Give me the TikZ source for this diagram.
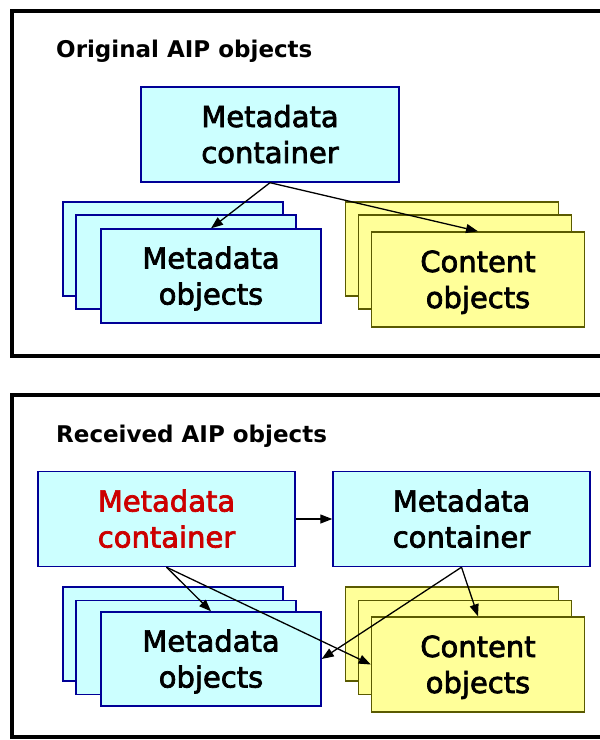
\documentclass[tikz,border=0pt]{standalone}
\usepackage{fontspec}
\setmainfont{DejaVu Sans}
\newfontfamily\boxfont[FakeBold=2.5]{DejaVu Sans}
\usetikzlibrary{arrows.meta}
\definecolor{cyanfill}{RGB}{204,255,255}
\definecolor{navyline}{RGB}{0,0,150}
\definecolor{yelfill}{RGB}{255,255,153}
\definecolor{oliveline}{RGB}{90,90,0}
\definecolor{redtext}{RGB}{204,0,0}
\newcommand\lnstrut{\rule[-7.5pt]{0pt}{36pt}}
\tikzset{
  frame/.style={line width=3.4pt, draw=black},
  titletext/.style={anchor=base west, inner sep=0pt, font={\fontsize{23}{28}\selectfont\bfseries}},
  boxtext/.style={inner sep=0pt, align=center, font={\boxfont\fontsize{29}{36}\selectfont\lineskiplimit=-100pt}},
  metabox/.style={boxtext, draw=navyline, fill=cyanfill, line width=1.4pt, minimum width=220pt, minimum height=94pt},
  contbox/.style={boxtext, draw=oliveline, fill=yelfill, line width=1.4pt, minimum width=213pt, minimum height=94pt},
  conbox/.style={metabox, minimum width=257pt, minimum height=95pt},
  arr/.style={line width=1.3pt, -{Triangle[length=12pt,width=9pt]}}
}
\begin{document}
\begin{tikzpicture}[x=1pt,y=-1pt]
\useasboundingbox (0,0) rectangle (600,740);
% frames
\draw[frame] (600,11) -| (12,356) -- (600,356);
\draw[frame] (600,395) -| (12,737) -- (600,737);
% titles
\node[titletext] (t1) at (56,57) {Original AIP objects};
\node[titletext] (t2) at (56,442) {Received AIP objects};
% top part
\node[conbox, minimum width=258pt] (mc) at (270,134.5) {\lnstrut Metadata\\\lnstrut container};
\node[metabox] (mo3) at (173,249) {};
\node[metabox] (mo2) at (186,262) {};
\node[metabox] (mo1) at (211,276) {\lnstrut Metadata\\\lnstrut objects};
\node[contbox] (co3) at (452,249) {};
\node[contbox] (co2) at (465,262) {};
\node[contbox, minimum height=95pt] (co1) at (478,279.5) {\lnstrut Content\\\lnstrut objects};
\draw[arr] (mc.south) -- (mo1.north);
\draw[arr] (mc.south) -- (co1.north);
% bottom part
\node[conbox] (rc) at (166.5,519) {\color{redtext}\lnstrut Metadata\\\color{redtext}\lnstrut container};
\node[conbox] (rc2) at (461.5,519) {\lnstrut Metadata\\\lnstrut container};
\node[metabox] (bmo3) at (173,634) {};
\node[metabox] (bmo2) at (186,647.5) {};
\node[metabox] (bmo1) at (211,659) {\lnstrut Metadata\\\lnstrut objects};
\node[contbox] (bco3) at (452,634) {};
\node[contbox] (bco2) at (465,647.5) {};
\node[contbox, minimum height=95pt] (bco1) at (478,664.5) {\lnstrut Content\\\lnstrut objects};
\draw[arr] (rc.east) -- (rc2.west);
\draw[arr] (rc.south) -- (bmo1.north);
\draw[arr] (rc.south) -- (bco1.west);
\draw[arr] (rc2.south) -- (bmo1.east);
\draw[arr] (rc2.south) -- (bco1.north);
\end{tikzpicture}
\end{document}
